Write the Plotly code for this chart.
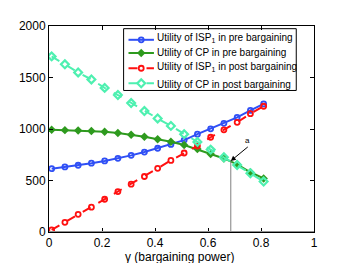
import plotly.graph_objects as go

gamma = [0.01, 0.06, 0.11, 0.16, 0.21, 0.26, 0.31, 0.36, 0.41, 0.46, 0.51, 0.56, 0.61, 0.66, 0.71, 0.76, 0.81]
isp_pre = [615, 632, 648, 668, 690, 715, 744, 776, 813, 850, 892, 950, 1002, 1055, 1112, 1180, 1243]
cp_pre = [993, 989, 985, 980, 973, 961, 944, 924, 901, 877, 845, 805, 758, 714, 657, 580, 520]
isp_post = [20, 94, 172, 241, 318, 392, 464, 539, 618, 695, 767, 835, 920, 992, 1065, 1149, 1221]
cp_post = [1705, 1628, 1549, 1481, 1399, 1330, 1252, 1174, 1102, 1030, 950, 875, 800, 725, 650, 570, 490]
names = ["Utility of ISP<sub>1</sub> in pre bargaining",
         "Utility of CP in pre bargaining",
         "Utility of ISP<sub>1</sub> in post bargaining",
         "Utility of CP in post bargaining"]
xticks = [0, 0.2, 0.4, 0.6, 0.8, 1]
yticks = [0, 500, 1000, 1500, 2000]
mark_x = 0.686
mark_y = 690

colors = ["#2f4ff5", "#2e9a1e", "#ff1010", "#4ef0b0"]
dashes = ["solid", "solid", "dash", "dash"]
markers = [dict(symbol="circle-open", size=5, color=colors[0], line=dict(width=1.8, color=colors[0])),
           dict(symbol="diamond", size=6.5, color=colors[1]),
           dict(symbol="circle-open", size=5, color=colors[2], line=dict(width=1.8, color=colors[2])),
           dict(symbol="diamond-open", size=6, color=colors[3], line=dict(width=2.2, color=colors[3]))]
series = [isp_pre, cp_pre, isp_post, cp_post]

fig = go.Figure()
for i in range(4):
    fig.add_trace(go.Scatter(x=gamma, y=series[i], name=names[i], mode="lines+markers",
                             line=dict(color=colors[i], width=2, dash=dashes[i]),
                             marker=markers[i], showlegend=False))

fig.add_shape(type="line", x0=mark_x, x1=mark_x, y0=0, y1=mark_y, line=dict(color="#808080", width=1))
fig.add_shape(type="line", x0=0, x1=1, y0=0, y1=0, line=dict(color="#909090", width=2))
fig.add_annotation(x=mark_x, y=mark_y, ax=17, ay=-14, text="a", showarrow=True,
                   arrowhead=2, arrowsize=1, arrowwidth=1, arrowcolor="black",
                   font=dict(size=8, color="black"), yanchor="bottom")

# manual legend (overlay axis in plot-area fraction coordinates)
line_rows = [0.933, 0.869, 0.795, 0.722]
text_rows = [0.941, 0.870, 0.802, 0.718]
fig.add_shape(type="rect", xref="x2", yref="y2", x0=0.2815, x1=0.933, y0=0.687, y1=0.987,
              line=dict(color="black", width=1), fillcolor="white", layer="below")
for i in range(4):
    fig.add_trace(go.Scatter(x=[0.30, 0.348, 0.396], y=[line_rows[i]] * 3, xaxis="x2", yaxis="y2",
                             mode="lines", line=dict(color=colors[i], width=2, dash=dashes[i]),
                             showlegend=False, hoverinfo="skip"))
    fig.add_trace(go.Scatter(x=[0.348], y=[line_rows[i]], xaxis="x2", yaxis="y2",
                             mode="markers", marker=markers[i],
                             showlegend=False, hoverinfo="skip"))
    fig.add_annotation(xref="x2", yref="y2", x=0.400, y=text_rows[i], text=names[i],
                       showarrow=False, xanchor="left", yanchor="middle",
                       font=dict(size=10, color="black"))

axis_common = dict(showgrid=False, zeroline=False, showline=True, linecolor="black", linewidth=1,
                   mirror="ticks", ticks="inside", ticklen=4, tickcolor="black",
                   tickfont=dict(size=12, color="black", family="Liberation Sans, Arial"))
fig.update_xaxes(range=[0, 1], tickvals=xticks, ticktext=[str(t) for t in xticks], **axis_common)
fig.update_yaxes(range=[0, 2000], tickvals=yticks, **axis_common)
fig.update_layout(
    xaxis2=dict(overlaying="x", range=[0, 1], visible=False, fixedrange=True),
    yaxis2=dict(overlaying="y", range=[0, 1], visible=False, fixedrange=True),
)
fig.add_annotation(xref="x2", yref="paper", x=0.494, y=-0.078, text="γ (bargaining power)",
                   showarrow=False, xanchor="center", yanchor="top",
                   font=dict(size=12, color="black"))

fig.update_layout(width=341, height=255, margin=dict(l=36, r=35, t=11, b=31),
                  plot_bgcolor="white", paper_bgcolor="white",
                  font=dict(family="Liberation Sans, Arial", color="black"),
                  showlegend=False)
fig.write_html("out.html")
